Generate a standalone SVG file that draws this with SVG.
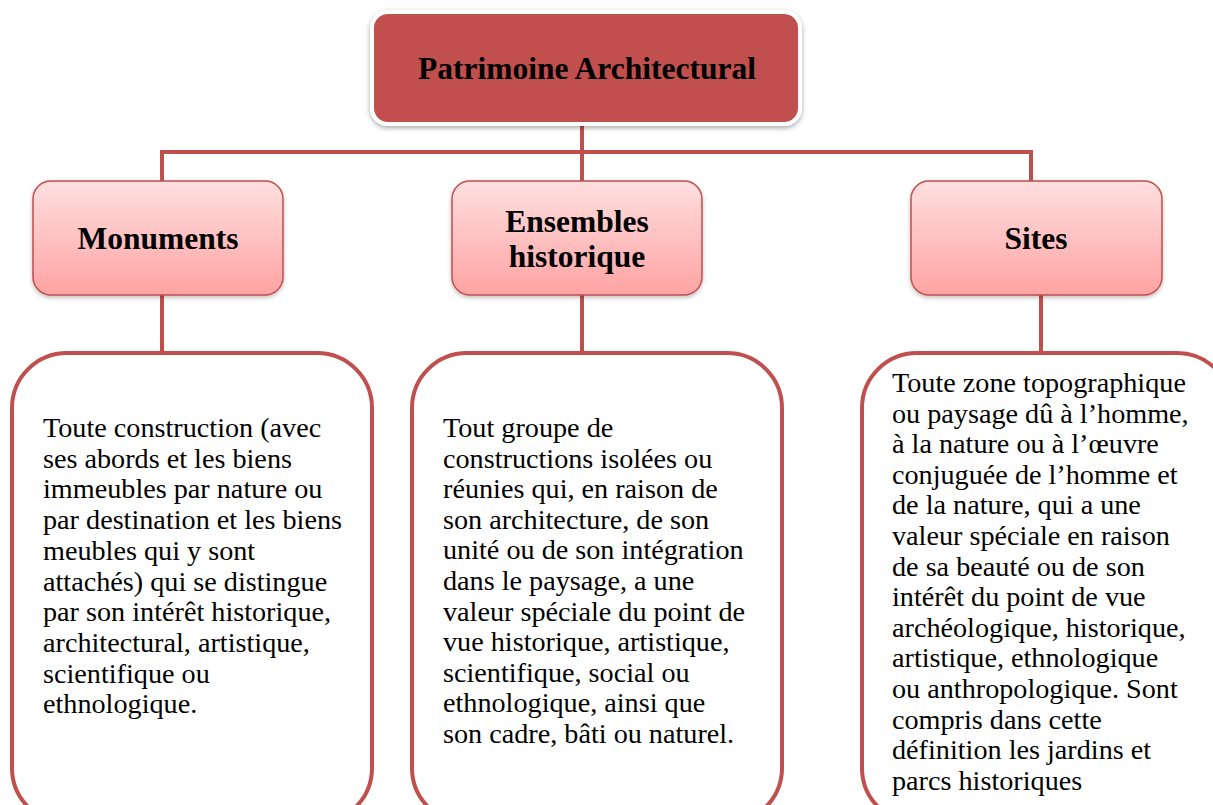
<svg xmlns="http://www.w3.org/2000/svg" width="1213" height="805" viewBox="0 0 1213 805">
<defs>
<linearGradient id="pink" x1="0" y1="0" x2="0" y2="1">
<stop offset="0" stop-color="#FFDFDF"/>
<stop offset="1" stop-color="#FFA3A3"/>
</linearGradient>
<filter id="sh" x="-10%" y="-10%" width="120%" height="130%">
<feDropShadow dx="0" dy="2" stdDeviation="2.5" flood-color="#000" flood-opacity="0.35"/>
</filter>
<filter id="sh2" x="-10%" y="-10%" width="120%" height="130%">
<feDropShadow dx="0" dy="2" stdDeviation="2" flood-color="#000" flood-opacity="0.25"/>
</filter>
</defs>
<style>
.conn{stroke:#C0504D;stroke-width:4;fill:none}
.top{fill:#C0504D;stroke:#fff;stroke-width:4}
.mid{fill:url(#pink);stroke:#C0504D;stroke-width:1.5}
.desc{fill:#fff;stroke:#C0504D;stroke-width:4}
.t{font-family:"Liberation Serif","Times New Roman",serif;fill:#000}
.b{font-weight:bold;text-anchor:middle}
.big{font-size:31.5px}
.lbl{font-size:31.5px}
.body{font-size:28.2px}
</style>
<rect width="1213" height="805" fill="#fff"/>
<g id="connectors">
<path class="conn" d="M582 124 V152 M162 152 H1031 M162 150 V181 M582 150 V181 M1031 150 V181"/>
<path class="conn" d="M162 295 V353 M582 295 V353 M1041 295 V353"/>
</g>
<g id="root">
<rect class="top" x="372" y="12" width="428" height="112" rx="16" filter="url(#sh)"/>
<text class="t b big" x="587" y="79">Patrimoine Architectural</text>
</g>
<g id="monuments">
<rect class="mid" x="33" y="181" width="250" height="114" rx="18" filter="url(#sh2)"/>
<text class="t b lbl" x="158" y="249">Monuments</text>
</g>
<g id="ensembles">
<rect class="mid" x="452" y="181" width="250" height="114" rx="18" filter="url(#sh2)"/>
<text class="t b lbl" x="577" y="232">Ensembles</text>
<text class="t b lbl" x="577" y="267">historique</text>
</g>
<g id="sites">
<rect class="mid" x="911" y="181" width="251" height="114" rx="18" filter="url(#sh2)"/>
<text class="t b lbl" x="1036" y="249">Sites</text>
</g>
<g id="monuments-def">
<rect class="desc" x="12" y="353" width="360" height="470" rx="55"/>
<text class="t body" x="43" y="437">
<tspan x="43">Toute construction (avec</tspan>
<tspan x="43" dy="30.7">ses abords et les biens</tspan>
<tspan x="43" dy="30.7">immeubles par nature ou</tspan>
<tspan x="43" dy="30.7">par destination et les biens</tspan>
<tspan x="43" dy="30.7">meubles qui y sont</tspan>
<tspan x="43" dy="30.7">attachés) qui se distingue</tspan>
<tspan x="43" dy="30.7">par son intérêt historique,</tspan>
<tspan x="43" dy="30.7">architectural, artistique,</tspan>
<tspan x="43" dy="30.7">scientifique ou</tspan>
<tspan x="43" dy="30.7">ethnologique.</tspan>
</text>
</g>
<g id="ensembles-def">
<rect class="desc" x="412" y="353" width="370" height="470" rx="55"/>
<text class="t body" x="443" y="437">
<tspan x="443">Tout groupe de</tspan>
<tspan x="443" dy="30.6">constructions isolées ou</tspan>
<tspan x="443" dy="30.6">réunies qui, en raison de</tspan>
<tspan x="443" dy="30.6">son architecture, de son</tspan>
<tspan x="443" dy="30.6">unité ou de son intégration</tspan>
<tspan x="443" dy="30.6">dans le paysage, a une</tspan>
<tspan x="443" dy="30.6">valeur spéciale du point de</tspan>
<tspan x="443" dy="30.6">vue historique, artistique,</tspan>
<tspan x="443" dy="30.6">scientifique, social ou</tspan>
<tspan x="443" dy="30.6">ethnologique, ainsi que</tspan>
<tspan x="443" dy="30.6">son cadre, bâti ou naturel.</tspan>
</text>
</g>
<g id="sites-def">
<rect class="desc" x="862" y="353" width="370" height="470" rx="55"/>
<text class="t body" x="892" y="392">
<tspan x="892">Toute zone topographique</tspan>
<tspan x="892" dy="30.6">ou paysage dû à l’homme,</tspan>
<tspan x="892" dy="30.6">à la nature ou à l’œuvre</tspan>
<tspan x="892" dy="30.6">conjuguée de l’homme et</tspan>
<tspan x="892" dy="30.6">de la nature, qui a une</tspan>
<tspan x="892" dy="30.6">valeur spéciale en raison</tspan>
<tspan x="892" dy="30.6">de sa beauté ou de son</tspan>
<tspan x="892" dy="30.6">intérêt du point de vue</tspan>
<tspan x="892" dy="30.6">archéologique, historique,</tspan>
<tspan x="892" dy="30.6">artistique, ethnologique</tspan>
<tspan x="892" dy="30.6">ou anthropologique. Sont</tspan>
<tspan x="892" dy="30.6">compris dans cette</tspan>
<tspan x="892" dy="30.6">définition les jardins et</tspan>
<tspan x="892" dy="30.6">parcs historiques</tspan>
</text>
</g>
</svg>
